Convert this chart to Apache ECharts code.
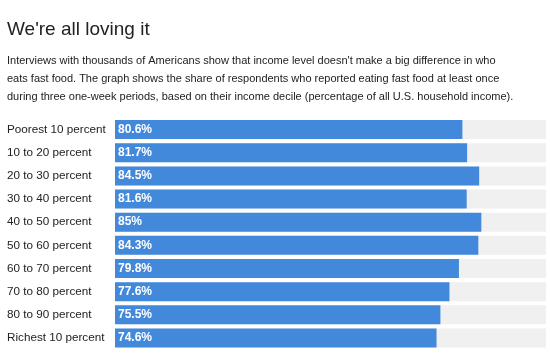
<!DOCTYPE html>
<html><head><meta charset="utf-8">
<script src="https://cdn.jsdelivr.net/npm/echarts@6/dist/echarts.min.js"></script>
<style>html,body{margin:0;padding:0;background:#fff}#c{width:550px;height:361px}</style>
</head><body><div id="c"></div>
<script>
const titleText = "We're all loving it";
const subtitleLines = [
  "Interviews with thousands of Americans show that income level doesn't make a big difference in who",
  "eats fast food. The graph shows the share of respondents who reported eating fast food at least once",
  "during three one-week periods, based on their income decile (percentage of all U.S. household income)."
];
const categories = ["Poorest 10 percent","10 to 20 percent","20 to 30 percent","30 to 40 percent","40 to 50 percent","50 to 60 percent","60 to 70 percent","70 to 80 percent","80 to 90 percent","Richest 10 percent"];
const values = [80.6, 81.7, 84.5, 81.6, 85, 84.3, 79.8, 77.6, 75.5, 74.6];
const labels = ["80.6%","81.7%","84.5%","81.6%","85%","84.3%","79.8%","77.6%","75.5%","74.6%"];

const font = "'Liberation Sans', Arial, Helvetica, sans-serif";
const chart = echarts.init(document.getElementById('c'), null, {renderer:'canvas'});
chart.setOption({
  animation: false,
  textStyle: {fontFamily: font},
  title: [
    {text: titleText, left: 7, top: 20, padding: 0, textStyle: {fontFamily: font, fontSize: 19, fontWeight: 'normal', color: '#222'}},
    {text: subtitleLines.join('\n'), left: 7, top: 52, padding: 0, textStyle: {fontFamily: font, fontSize: 11, fontWeight: 'normal', color: '#222', lineHeight: 18}}
  ],
  grid: {left: 115, top: 118, width: 431, height: 231.5, containLabel: false},
  xAxis: {type: 'value', min: 0, max: 100, show: false},
  yAxis: {
    type: 'category', data: categories, inverse: true,
    axisLine: {show: false}, axisTick: {show: false},
    axisLabel: {align: 'left', margin: 108, fontSize: 11.7, color: '#222', fontFamily: font}
  },
  series: [{
    type: 'bar', data: values, barWidth: 19,
    itemStyle: {color: '#4289dc'},
    showBackground: true,
    backgroundStyle: {color: '#f0f0f0'},
    label: {show: true, position: 'insideLeft', offset: [-2, 0], color: '#fff', fontWeight: 'bold', fontSize: 12, fontFamily: font,
      formatter: p => labels[p.dataIndex]}
  }]
});
</script></body></html>
